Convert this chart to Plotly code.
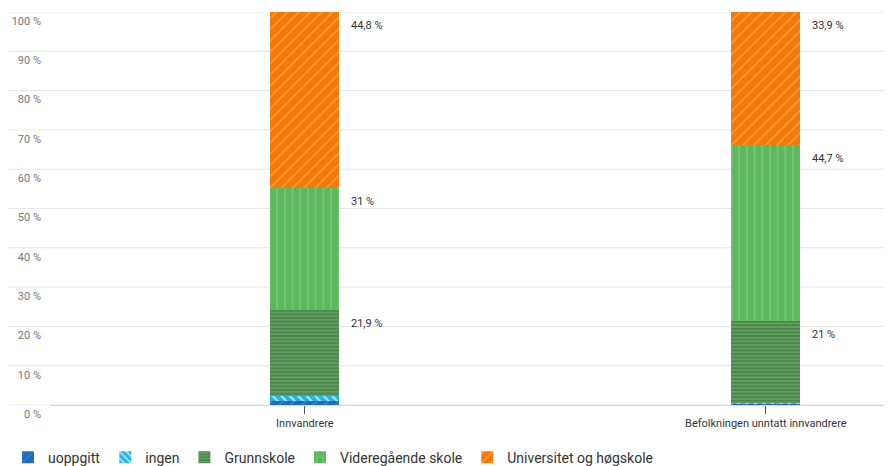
import plotly.graph_objects as go

categories = ["Innvandrere", "Befolkningen unntatt innvandrere"]
series_names = ["uoppgitt", "ingen", "Grunnskole", "Videregående skole", "Universitet og høgskole"]
uoppgitt = [1.0, 0.3]
ingen = [1.3, 0.1]
grunnskole = [21.9, 21.0]
videregaende = [31.0, 44.7]
universitet = [44.8, 33.9]
y_ticks = [0, 10, 20, 30, 40, 50, 60, 70, 80, 90, 100]
labelled = [False, False, True, True, True]

series_values = [uoppgitt, ingen, grunnskole, videregaende, universitet]
styles = [
    dict(bg="#1f6cbd", fg="rgba(255,255,255,0.22)", shape="/", size=8, sol=0.12),
    dict(bg="#22b4e6", fg="rgba(255,255,255,0.75)", shape="\\", size=6, sol=0.3),
    dict(bg="#4b874b", fg="#6ea56e", shape="-", size=3.6, sol=0.35),
    dict(bg="#5cb85c", fg="#86cc86", shape="|", size=7.7, sol=0.15),
    dict(bg="#f57a05", fg="#f8a052", shape="/", size=8, sol=0.18),
]

FONT = "Roboto"
fig = go.Figure()
x_idx = list(range(len(categories)))
for name, vals, st in zip(series_names, series_values, styles):
    fig.add_trace(go.Bar(
        x=x_idx, y=vals, name=name, width=0.15,
        marker=dict(color=st["bg"], line=dict(width=0),
                    pattern=dict(shape=st["shape"], fgcolor=st["fg"], bgcolor=st["bg"],
                                 size=st["size"], solidity=st["sol"], fillmode="replace")),
        hoverinfo="skip",
    ))

annotations = []
for ci in x_idx:
    cum = 0
    for si, vals in enumerate(series_values):
        cum += vals[ci]
        if labelled[si]:
            txt = (f"{vals[ci]:.1f}".rstrip("0").rstrip(".")).replace(".", ",") + " %"
            annotations.append(dict(x=ci, y=cum, xref="x", yref="y", text=txt, showarrow=False,
                                    xanchor="left", yanchor="top", xshift=44, yshift=-5,
                                    font=dict(family=FONT, size=11, color="#333333")))

shapes = []
for t in y_ticks:
    shapes.append(dict(type="line", xref="paper", yref="y", x0=-0.051, x1=1, y0=t, y1=t,
                       line=dict(color="#e6e6e6", width=1), layer="below"))

fig.update_layout(
    width=884, height=458,
    margin=dict(l=42, r=4, t=4, b=61, autoexpand=False),
    plot_bgcolor="white", paper_bgcolor="white",
    barmode="stack",
    font=dict(family=FONT, color="#333333"),
    showlegend=True,
    legend=dict(orientation="h", xref="container", yref="container", x=0, xanchor="left",
                y=0.053, yanchor="top",
                font=dict(family=FONT, size=14, color="#333333"), traceorder="normal",
                itemclick=False),
    annotations=annotations,
    shapes=shapes,
    xaxis=dict(range=[-0.553, 1.265], tickmode="array", tickvals=x_idx, ticktext=categories,
               showgrid=False, showline=True, linecolor="#d8d8d8", ticks="outside",
               ticklen=8, tickcolor="#555555", tickfont=dict(family=FONT, size=11, color="#333333"),
               zeroline=False, fixedrange=True),
    yaxis=dict(range=[0, 100], tickmode="array", tickvals=y_ticks,
               ticktext=[f"{t} %" for t in y_ticks], showgrid=False, zeroline=False,
               tickfont=dict(family=FONT, size=11, color="#777777"), ticklabelshift=9,
               ticklabelstandoff=8, fixedrange=True),
)

fig.write_html("out.html")
